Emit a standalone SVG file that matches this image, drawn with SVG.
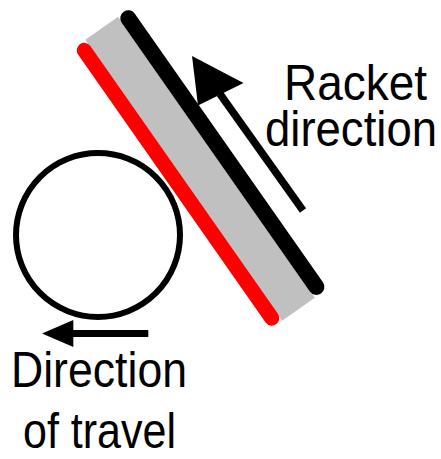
<svg xmlns="http://www.w3.org/2000/svg" width="441" height="459" viewBox="0 0 441 459">
<style>
.lbl{font-family:"Liberation Sans",Arial,sans-serif;font-size:50px;fill:#000}
.arr{stroke:#000;fill:none;stroke-linecap:butt}
</style>
<rect width="441" height="459" fill="#fff"/>
<g id="ball">
<circle cx="98" cy="235" r="82" fill="none" stroke="#000" stroke-width="6"/>
</g>
<g id="racket" transform="translate(200.4,169.15) rotate(55)">
<rect x="-172" y="-20" width="343" height="40" fill="#c0c0c0"/>
<line x1="-164" y1="27" x2="163" y2="27" stroke="#ff0000" stroke-width="15" stroke-linecap="round"/>
<line x1="-165" y1="-27.5" x2="163" y2="-27.5" stroke="#000" stroke-width="16" stroke-linecap="round"/>
</g>
<g id="connectors">
<g id="racket-arrow">
<line class="arr" x1="220" y1="94" x2="303" y2="210.5" stroke-width="7.5"/>
<polygon points="192,56 243.5,83 198,105.5" fill="#000"/>
</g>
<g id="travel-arrow">
<line class="arr" x1="72" y1="333.5" x2="148.3" y2="333.5" stroke-width="7"/>
<polygon points="42,333.5 73.3,320 73.3,347" fill="#000"/>
</g>
</g>
<g id="label-racket">
<text class="lbl" x="284" y="100" textLength="143" lengthAdjust="spacingAndGlyphs">Racket</text>
<text class="lbl" x="265" y="146" textLength="172" lengthAdjust="spacingAndGlyphs">direction</text>
</g>
<g id="label-travel">
<text class="lbl" x="11" y="387" textLength="176" lengthAdjust="spacingAndGlyphs">Direction</text>
<text class="lbl" x="23" y="448" textLength="153" lengthAdjust="spacingAndGlyphs">of travel</text>
</g>
</svg>
